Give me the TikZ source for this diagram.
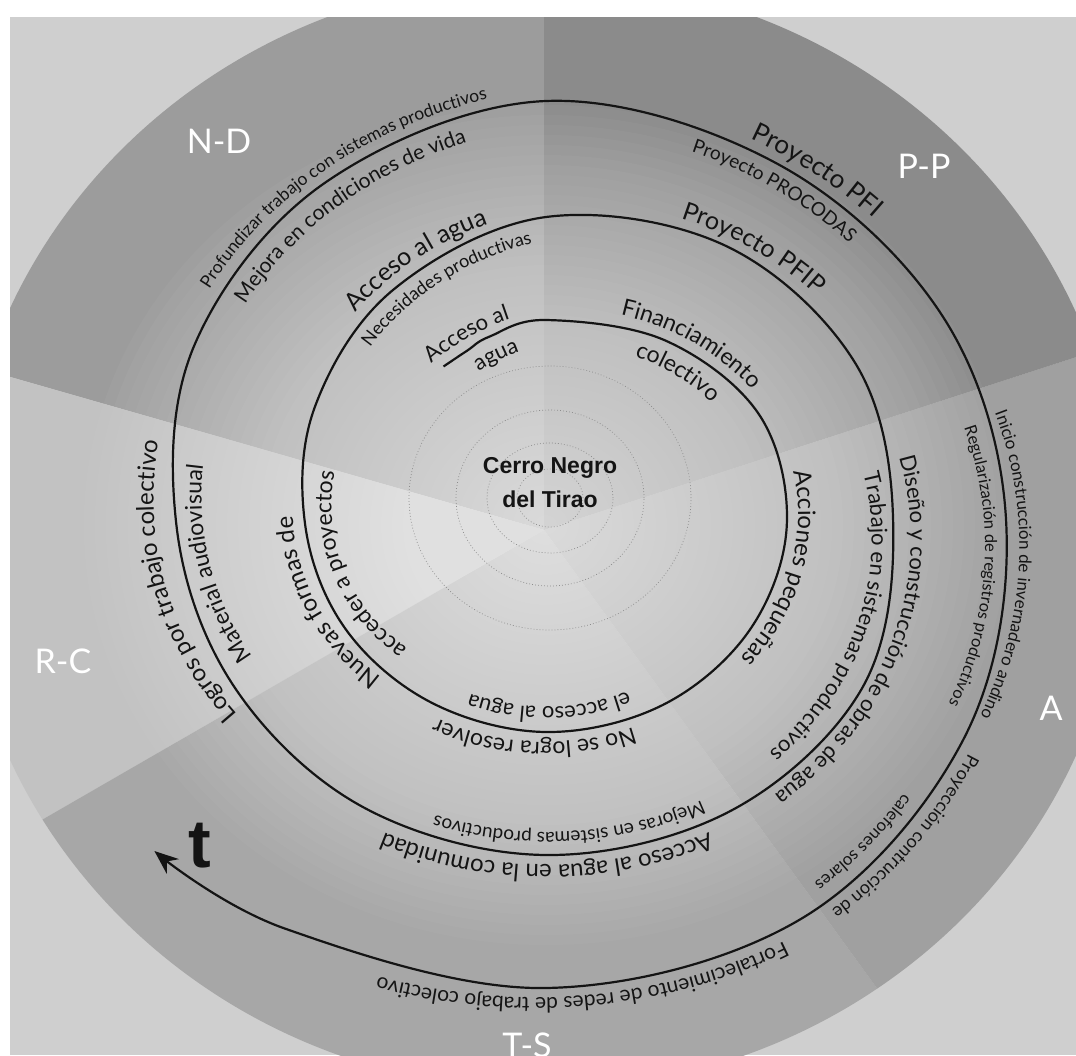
\documentclass[tikz,border=0pt]{standalone}
\usepackage{fontspec}
\setmainfont{Lato}
\newfontfamily\centerfont{Liberation Sans}
\usetikzlibrary{decorations.text, arrows.meta}
\definecolor{cOut}{HTML}{CFCFCF}
\definecolor{cND}{HTML}{9C9C9C}
\definecolor{cPP}{HTML}{8B8B8B}
\definecolor{cA}{HTML}{A0A0A0}
\definecolor{cTS}{HTML}{A7A7A7}
\definecolor{cRC}{HTML}{C2C2C2}
\definecolor{cInk}{HTML}{141414}
\tikzset{
  spiral/.style={
    draw=cInk, line width=2.2pt,
    -{Stealth[length=24pt,width=19pt]}
  },
  ringdots/.style={
    draw=black!45, line width=0.7pt,
    dash pattern=on 0.8pt off 2.2pt
  },
  sectorname/.style={
    text=white,
    font=\fontsize{34}{34}\selectfont
  },
  sectorfill/.style={fill=#1, draw=none}
}
% text along one turn of the spiral: phi from, phi to, r from, r to, size, text
\newcommand{\splabel}[6]{%
  \path[decorate, decoration={text along path, text align=center,
      text color=cInk, text={|\fontsize{#5}{#5}\selectfont|#6}}]
    plot[domain=#1:#2, samples=60, variable=\t]
    ({546+1.12*((#3)+((#4)-(#3))*(\t-(#1))/((#2)-(#1)))*sin(\t)},
     {-525+((#3)+((#4)-(#3))*(\t-(#1))/((#2)-(#1)))*cos(\t)});}

\begin{document}
\begin{tikzpicture}[x=1pt, y=1pt]
  \useasboundingbox (0,-1055) rectangle (1076,0);
  \fill[white] (0,-1055) rectangle (1076,0);
  \fill[cOut] (10,-1055) rectangle (1076,-17);

  \begin{scope}
    \clip (10,-1055) rectangle (1076,-17);
    \clip (542,-534) ellipse[x radius=582, y radius=556];
    \fill[sectorfill=cND] (544,-530) -- ++(90:900) arc[start angle=90, end angle=164, radius=900] -- cycle;
    \fill[sectorfill=cRC] (544,-530) -- ++(164:900) arc[start angle=164, end angle=210, radius=900] -- cycle;
    \fill[sectorfill=cTS] (544,-530) -- ++(210:900) arc[start angle=210, end angle=306, radius=900] -- cycle;
    \fill[sectorfill=cA] (544,-530) -- ++(306:900) arc[start angle=306, end angle=378, radius=900] -- cycle;
    \fill[sectorfill=cPP] (544,-530) -- ++(18:900) arc[start angle=18, end angle=90, radius=900] -- cycle;
    \foreach \r in {420,410,...,10}
      \fill[white, fill opacity=0.032] (546,-525) ellipse[x radius={1.1*\r}, y radius=\r];
  \end{scope}

  \foreach \rx/\ry in {141/132, 94/88, 63/55, 33/29}
    \draw[ringdots] (550,-498) ellipse[x radius=\rx, y radius=\ry];

  \node[font=\centerfont\bfseries\fontsize{23}{34}\selectfont, align=center, text=cInk] (cerro) at (550,-483) {Cerro Negro\\del Tirao};

  \draw[spiral] plot[smooth, tension=0.6] coordinates {
    (443.5,-366.5) (467.1,-350.7) (489.5,-336.6) (546,-320) (665.3,-340.5)
    (759.4,-415) (786.8,-525) (749.7,-630) (662.5,-705.1) (546,-732)
    (431.2,-702.5) (345.2,-628.5) (305.2,-525) (315.2,-406) (393.7,-289.4)
    (546,-217) (726.3,-246.1) (856.4,-365) (893.2,-525) (862.2,-688)
    (730.8,-810.8) (546,-855) (363.4,-807.3) (233.7,-686) (176.4,-525)
    (194.9,-344) (324.8,-182.9) (546,-101) (779,-164.7) (944.7,-319.5)
    (1006.3,-525) (963.1,-740) (800.8,-919) (546,-988) (285,-928.6)
    (154.4,-851)};

  \node[font=\centerfont\bfseries\fontsize{68}{68}\selectfont, text=cInk] (tlabel) at (200,-846) {t};

  \node[sectorname] (nd) at (219,-141) {N-D};
  \node[sectorname] (pp) at (924,-166) {P-P};
  \node[sectorname] (rc) at (63,-661) {R-C};
  \node[sectorname] (aa) at (1051,-708) {A};
  \node[sectorname] (ts) at (527,-1045) {T-S};

  \splabel{-52}{7}{176}{220}{22}{Acceso al}
  \splabel{-47}{13}{145.5}{190.5}{22}{agua}
  \splabel{-9}{81}{214.3}{235}{23}{Financiamiento}
  \splabel{-2}{78}{180.2}{198.6}{23}{colectivo}
  \splabel{52}{152}{231.5}{214.5}{24}{Acciones pequeñas}
  \splabel{133}{233}{217}{217}{23}{No se logra resolver}
  \splabel{129}{229}{182}{182}{22}{el acceso al agua}
  \splabel{203}{293}{205.5}{232.5}{24}{Nuevas formas de}
  \splabel{210}{300}{169.7}{201}{23}{acceder a proyectos}
  \splabel{292}{372}{238}{330.8}{25}{Acceso al agua}
  \splabel{294.5}{374.5}{209}{301.8}{18}{Necesidades productivas}
  \splabel{349.8}{439.8}{325}{338.5}{25}{Proyecto PFIP}
  \splabel{418}{518}{282.8}{306.8}{22}{Trabajo en sistemas productivos}
  \splabel{414}{524}{316.8}{343.2}{22}{Diseño y construcción de obras de agua}
  \splabel{486}{586}{309.3}{305.3}{19}{Mejoras en sistemas productivos}
  \splabel{490}{590}{341}{339}{24}{Acceso al agua en la comunidad}
  \splabel{569}{669}{322}{367}{24}{Logros por trabajo colectivo}
  \splabel{576.4}{666.4}{279.5}{324.5}{23}{Material audiovisual}
  \splabel{642.5}{732.5}{355}{449.5}{17.5}{Profundizar trabajo con sistemas productivos}
  \splabel{641}{731}{317.25}{411.75}{21}{Mejora en condiciones de vida}
  \splabel{716}{796}{433}{417}{26}{Proyecto PFI}
  \splabel{713}{793}{400.7}{384.7}{19}{Proyecto PROCODAS}
  \splabel{769.5}{859.5}{406.8}{441}{17}{Inicio construcción de invernadero andino}
  \splabel{770}{860}{376.2}{410.4}{16.5}{Regularización de registros productivos}
  \splabel{817}{887}{421}{479}{18}{Proyección contrucción de}
  \splabel{821}{891}{393}{451}{17}{calefones solares}
  \splabel{845}{945}{462.7}{480.7}{21}{Fortalecimiento de redes de trabajo colectivo}
\end{tikzpicture}
\end{document}
